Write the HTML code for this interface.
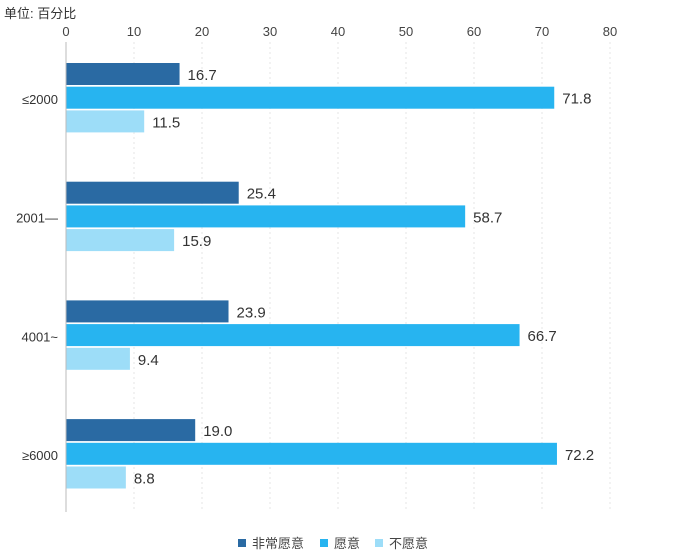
<!DOCTYPE html>
<html><head><meta charset="utf-8"><style>
body{margin:0;background:#fff;width:680px;height:553px;overflow:hidden}
svg{font-family:"Liberation Sans","Noto Sans CJK SC",sans-serif}
</style></head><body>
<svg id="c" width="680" height="553">
<text x="4" y="18" font-size="13" fill="#333">单位: 百分比</text>
<g id="grid"></g><g id="bars"></g>
<line x1="66" y1="42" x2="66" y2="512" stroke="#bbb" stroke-width="1"/>
<g>
<rect x="238" y="539" width="8" height="8" fill="#2a6aa3"/>
<text x="252" y="548" font-size="13" fill="#444">非常愿意</text>
<rect x="320" y="539" width="8" height="8" fill="#27b4f0"/>
<text x="334" y="548" font-size="13" fill="#444">愿意</text>
<rect x="375" y="539" width="8" height="8" fill="#9dddf8"/>
<text x="389" y="548" font-size="13" fill="#444">不愿意</text>
</g>
</svg>
<script>
const categories=["≤2000","2001—","4001~","≥6000"];
const veryWilling=[16.7,25.4,23.9,19.0];
const willing=[71.8,58.7,66.7,72.2];
const unwilling=[11.5,15.9,9.4,8.8];
const ticks=[0,10,20,30,40,50,60,70,80];
const ns="http://www.w3.org/2000/svg";
const x=v=>66+v*6.8;
const groupTop=i=>63+i*118.7;
const grid=document.getElementById('grid'),bars=document.getElementById('bars');
function mk(tag,attrs,parent){const e=document.createElementNS(ns,tag);for(const k in attrs)e.setAttribute(k,attrs[k]);parent.appendChild(e);return e;}
ticks.forEach(t=>{
  if(t>0){const l=mk('line',{x1:x(t),x2:x(t),y1:42,y2:512,stroke:'#e4e4e4','stroke-dasharray':'2,3'},grid);
  
  }
  const tx=mk('text',{x:x(t),y:36,'font-size':13,fill:'#444','text-anchor':'middle'},grid);
  tx.textContent=t;
  
  
});
const series=[[veryWilling,'#2a6aa3','very-willing'],[willing,'#27b4f0','willing'],[unwilling,'#9dddf8','unwilling']];
categories.forEach((c,i)=>{
  const top=groupTop(i);
  const lb=mk('text',{x:58,y:top+41,'font-size':13,fill:'#333','text-anchor':'end'},bars);
  lb.textContent=c;
  
  
  series.forEach((s,j)=>{
    const y=top+j*23.7,v=s[0][i];
    const r=mk('rect',{x:66,y:y,width:x(v)-66,height:22,fill:s[1]},bars);
    
    
    const t=mk('text',{x:x(v)+8,y:y+17,'font-size':15,fill:'#333'},bars);
    t.textContent=v.toFixed(1);
    
    
  });
});
</script>
</body></html>
